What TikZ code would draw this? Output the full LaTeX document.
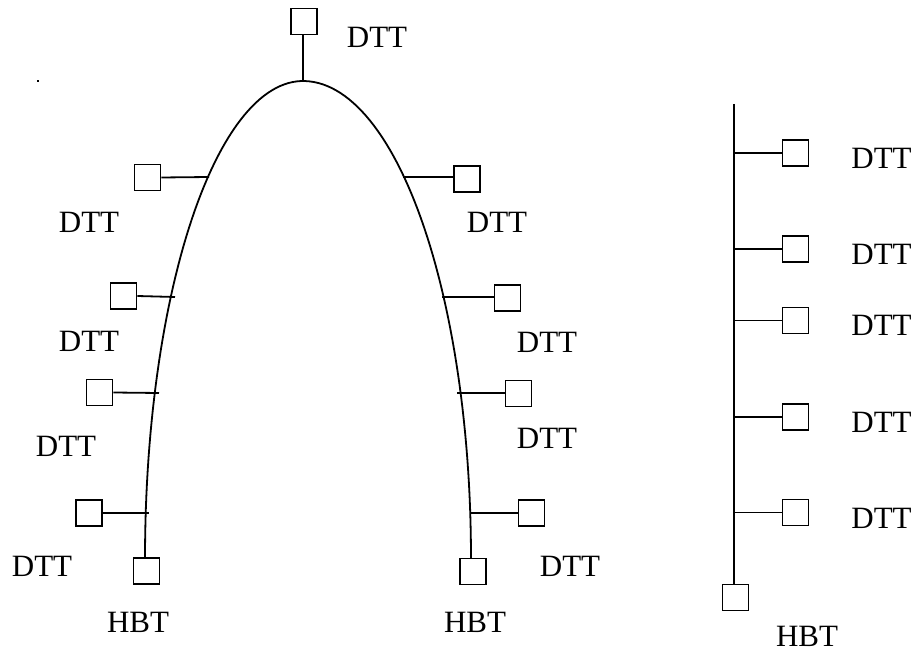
\documentclass[tikz,border=0pt]{standalone}
\usepackage{fontspec}
\setmainfont{Liberation Serif}
\begin{document}
\begin{tikzpicture}[x=1pt,y=-1pt,
  term/.style={draw, rectangle, minimum size=26pt, inner sep=0pt, line width=1.8pt},
  lbl/.style={inner sep=0pt, font=\fontsize{31}{31}\selectfont},
  wire/.style={line width=1.8pt}]
\useasboundingbox (0,0) rectangle (919,652);

% stray dot
\fill (37,80) rectangle (39,82);

% ---- arch bus ----
\coordinate (apex) at (303,81);
\coordinate (endL) at (145,558);
\coordinate (endR) at (471,558);
\draw[wire] plot[domain=0:180, samples=120]
  ({303-((\x<=90)?158:168)*cos(\x)},{558-477*sin(\x)});

% taps on the arch
\coordinate (tl1) at (209,177);
\coordinate (tl2) at (175,297);
\coordinate (tl3) at (159,393);
\coordinate (tl4) at (149,513);
\coordinate (tr1) at (403,177);
\coordinate (tr2) at (442,297);
\coordinate (tr3) at (457,393);
\coordinate (tr4) at (470,513);

% top terminal
\node[term] (top) at (304,21.5) {};
\node[lbl] (ltop) at (377,37.5) {DTT};
\draw[wire] (top.south -| apex) -- (apex);

% left side terminals
\node[term] (bl1) at (147.5,177.5) {};
\node[term] (bl2) at (123.5,296) {};
\node[term] (bl3) at (99.5,392.5) {};
\node[term] (bl4) at (89,513) {};
\node[term] (hl) at (146.5,571) {};
\draw[wire] (bl1.east) -- (tl1);
\draw[wire] (bl2.east) -- (tl2);
\draw[wire] (bl3.east) -- (tl3);
\draw[wire] (bl4.east) -- (tl4);
\draw[wire] (endL) -- (endL |- hl.north);
\node[lbl] (ll1) at (89,222) {DTT};
\node[lbl] (ll2) at (89,341) {DTT};
\node[lbl] (ll3) at (66,446) {DTT};
\node[lbl] (ll4) at (42,566) {DTT};
\node[lbl] (lhl) at (138,622) {HBT};

% right side terminals
\node[term] (br1) at (467,179) {};
\node[term] (br2) at (507.5,298) {};
\node[term] (br3) at (518.5,393.5) {};
\node[term] (br4) at (531.5,513) {};
\node[term] (hr) at (473,571.5) {};
\draw[wire] (tr1) -- (br1.west |- tr1);
\draw[wire] (tr2) -- (br2.west |- tr2);
\draw[wire] (tr3) -- (br3.west |- tr3);
\draw[wire] (tr4) -- (br4.west |- tr4);
\draw[wire] (endR) -- (endR |- hr.north);
\node[lbl] (lr1) at (497,222) {DTT};
\node[lbl] (lr2) at (547,342) {DTT};
\node[lbl] (lr3) at (547,438) {DTT};
\node[lbl] (lr4) at (570,566) {DTT};
\node[lbl] (lhr) at (475,622) {HBT};

% ---- straight bus ----
\node[term] (hs) at (735.5,597.5) {};
\coordinate (stop) at (734,104);
\coordinate (s1) at (734,153);
\coordinate (s2) at (734,249);
\coordinate (s3) at (734,320.5);
\coordinate (s4) at (734,417);
\coordinate (s5) at (734,512.5);
\draw[wire] (stop) -- (stop |- hs.north);
\node[term] (bs1) at (795.5,153) {};
\node[term] (bs2) at (795.5,249) {};
\node[term] (bs3) at (795.5,320.5) {};
\node[term] (bs4) at (795.5,417) {};
\node[term] (bs5) at (795.5,512.5) {};
\draw[wire] (s1) -- (bs1.west);
\draw[wire] (s2) -- (bs2.west);
\draw[wire] (s3) -- (bs3.west);
\draw[wire] (s4) -- (bs4.west);
\draw[wire] (s5) -- (bs5.west);
\node[lbl] (ls1) at (881.5,158) {DTT};
\node[lbl] (ls2) at (881.5,254) {DTT};
\node[lbl] (ls3) at (881.5,325) {DTT};
\node[lbl] (ls4) at (881.5,422) {DTT};
\node[lbl] (ls5) at (881.5,518) {DTT};
\node[lbl] (lhs) at (807,636) {HBT};
\end{tikzpicture}
\end{document}
